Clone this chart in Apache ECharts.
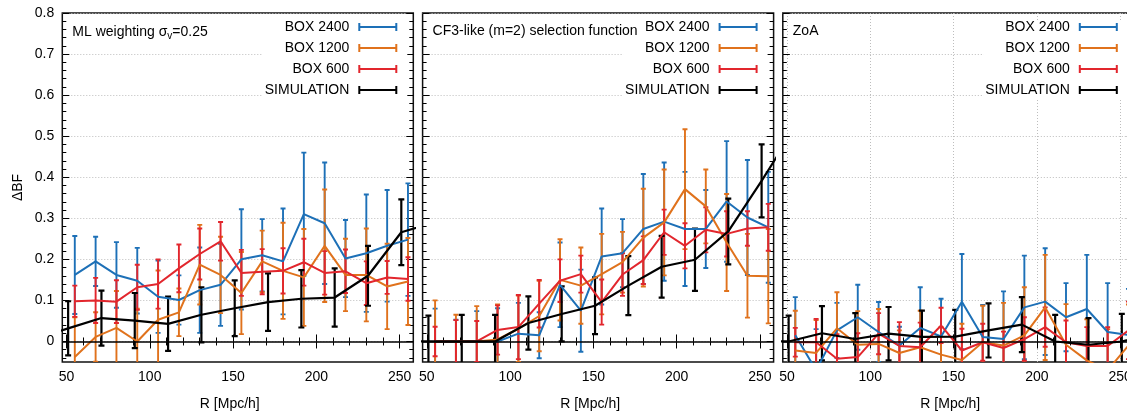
<!DOCTYPE html>
<html><head><meta charset="utf-8">
<script src="https://cdn.jsdelivr.net/npm/echarts@6/dist/echarts.min.js"></script>
<style>html,body{margin:0;padding:0;background:#fff}#c{width:1127px;height:412px}</style>
</head><body><div id="c"></div>
<script>
// ---------------- data ----------------
const boxR = [55,67.5,80,92.5,105,117.5,130,142.5,155,167.5,180,192.5,205,217.5,230,242.5,255];
const simR = [31,51,71,91,111,131,151,171,191,211,231,251,271];

const xMajor = [50,100,150,200,250];
const xMinor = [60,70,80,90,110,120,130,140,160,170,180,190,210,220,230,240];
const yMajor = [0,0.1,0.2,0.3,0.4,0.5,0.6,0.7,0.8];
const yMinor = [-0.04,-0.02,0.02,0.04,0.06,0.08,0.12,0.14,0.16,0.18,0.22,0.24,0.26,0.28,0.32,0.34,0.36,0.38,0.42,0.44,0.46,0.48,0.52,0.54,0.56,0.58,0.62,0.64,0.66,0.68,0.72,0.74,0.76,0.78];

const seriesNames = ['BOX 2400','BOX 1200','BOX 600','SIMULATION'];
const panelTitles = ['ML weighting σ{v|v}=0.25','CF3-like (m=2) selection function','ZoA'];

// Panel 1: ML weighting
const mlBox2400    = [0.162,0.195,0.162,0.148,0.109,0.101,0.125,0.138,0.200,0.210,0.195,0.310,0.288,0.202,0.215,0.233,0.248];
const mlBox2400Err = [0.095,0.060,0.080,0.080,0.088,0.060,0.104,0.100,0.122,0.088,0.129,0.150,0.148,0.094,0.143,0.136,0.137];
const mlBox1200    = [-0.038,0.011,0.033,0.000,0.053,0.071,0.187,0.162,0.118,0.195,0.172,0.156,0.233,0.162,0.162,0.134,0.146];
const mlBox1200Err = [0.097,0.060,0.090,0.080,0.120,0.058,0.097,0.093,0.100,0.075,0.117,0.118,0.137,0.088,0.113,0.104,0.106];
const mlBox600     = [0.098,0.100,0.097,0.132,0.140,0.178,0.213,0.244,0.167,0.170,0.172,0.193,0.167,0.171,0.142,0.156,0.152];
const mlBox600Err  = [0.038,0.055,0.052,0.055,0.060,0.058,0.062,0.047,0.056,0.055,0.055,0.057,0.053,0.053,0.053,0.040,0.053];
const mlSim        = [0.005,0.032,0.057,0.051,0.043,0.065,0.081,0.096,0.104,0.107,0.160,0.266,0.290];
const mlSimErr     = [0.066,0.066,0.067,0.067,0.066,0.067,0.068,0.070,0.070,0.071,0.073,0.080,0.080];

// Panel 2: CF3-like selection function
const cfBox2400    = [0.000,0.000,0.000,0.000,0.019,0.015,0.138,0.075,0.207,0.215,0.274,0.292,0.274,0.274,0.341,0.302,0.278];
const cfBox2400Err = [0.080,0.053,0.074,0.081,0.075,0.056,0.103,0.100,0.117,0.083,0.134,0.144,0.139,0.095,0.147,0.140,0.135];
const cfBox1200    = [0.000,0.000,0.000,0.005,0.031,0.062,0.150,0.136,0.164,0.193,0.253,0.290,0.371,0.329,0.241,0.160,0.159];
const cfBox1200Err = [0.100,0.065,0.086,0.085,0.081,0.086,0.099,0.093,0.098,0.074,0.119,0.129,0.146,0.090,0.118,0.102,0.115];
const cfBox600     = [0.000,0.000,0.000,0.028,0.035,0.092,0.148,0.164,0.096,0.163,0.198,0.266,0.233,0.272,0.262,0.275,0.278];
const cfBox600Err  = [0.036,0.052,0.050,0.060,0.078,0.058,0.052,0.045,0.055,0.052,0.058,0.055,0.055,0.055,0.055,0.042,0.057];
const cfSim        = [0.000,0.000,0.000,0.000,0.045,0.067,0.087,0.136,0.182,0.199,0.268,0.391,0.520];
const cfSimErr     = [0.063,0.063,0.065,0.065,0.065,0.067,0.069,0.072,0.075,0.076,0.080,0.089,0.090];

// Panel 3: ZoA
const zoaBox2400    = [0.015,-0.070,0.027,0.059,0.023,-0.010,0.033,0.012,0.097,0.011,0.006,0.083,0.097,0.059,0.079,0.023,0.016];
const zoaBox2400Err = [0.093,0.100,0.067,0.079,0.073,0.046,0.099,0.092,0.116,0.078,0.116,0.126,0.130,0.083,0.132,0.119,0.112];
const zoaBox1200    = [-0.022,-0.028,0.032,-0.008,-0.006,-0.028,-0.014,-0.032,-0.045,-0.002,-0.010,0.015,0.083,-0.008,-0.046,-0.070,-0.010];
const zoaBox1200Err = [0.097,0.080,0.088,0.082,0.085,0.055,0.089,0.067,0.088,0.089,0.104,0.117,0.128,0.099,0.100,0.100,0.100];
const zoaBox600     = [-0.002,-0.002,-0.042,-0.038,0.019,-0.011,-0.014,0.039,-0.022,-0.002,-0.016,0.006,0.035,-0.002,-0.011,-0.011,0.027];
const zoaBox600Err  = [0.035,0.057,0.060,0.058,0.050,0.058,0.060,0.043,0.053,0.045,0.040,0.053,0.048,0.053,0.046,0.046,0.070];
const zoaSim        = [0.000,0.000,0.020,0.006,0.019,0.011,0.012,0.027,0.041,0.000,-0.008,0.000,0.020];
const zoaSimErr     = [0.063,0.063,0.066,0.063,0.065,0.064,0.065,0.066,0.067,0.065,0.065,0.067,0.067];

// ---------------- styling / build ----------------
const FONT = '"Liberation Sans", Arial, Helvetica, sans-serif';
const COLORS = ['#1d70b7', '#e0721c', '#e2262d', '#000000'];
const panelLeft = [62.3, 422.6, 782.8];
const PW = 351, TOP = 13, PH = 349;
const XMIN = 47.5, XMAX = 258.2, YMIN = -0.05, YMAX = 0.8;

const panels = [
  [[mlBox2400, mlBox2400Err], [mlBox1200, mlBox1200Err], [mlBox600, mlBox600Err], [mlSim, mlSimErr]],
  [[cfBox2400, cfBox2400Err], [cfBox1200, cfBox1200Err], [cfBox600, cfBox600Err], [cfSim, cfSimErr]],
  [[zoaBox2400, zoaBox2400Err], [zoaBox1200, zoaBox1200Err], [zoaBox600, zoaBox600Err], [zoaSim, zoaSimErr]]
];

const grids = [], xAxes = [], yAxes = [], series = [], legends = [], titles = [];
const tickLine = {color: '#000', width: 1};
const gridLine = {color: '#bdbdbd', width: 1, type: [1, 2]};

function errRenderer(color, cap, lw) {
  return function (params, api) {
    const x = api.value(0), y = api.value(1), e = api.value(2);
    const t = api.coord([x, y + e]);
    const b = api.coord([x, y - e]);
    const cs = params.coordSys;
    const style = {stroke: color, lineWidth: lw, fill: null};
    return {
      type: 'group',
      clipPath: {type: 'rect', shape: {x: cs.x, y: cs.y, width: cs.width, height: cs.height}},
      children: [
        {type: 'line', shape: {x1: t[0], y1: t[1], x2: b[0], y2: b[1]}, style: style},
        {type: 'line', shape: {x1: t[0] - cap, y1: t[1], x2: t[0] + cap, y2: t[1]}, style: style},
        {type: 'line', shape: {x1: b[0] - cap, y1: b[1], x2: b[0] + cap, y2: b[1]}, style: style}
      ]
    };
  };
}

for (let p = 0; p < 3; p++) {
  grids.push({left: panelLeft[p], top: TOP, width: PW, height: PH, show: true,
              outerBoundsMode: 'none', containLabel: false,
              borderColor: '#111', borderWidth: 1.5, backgroundColor: 'transparent'});
  const base = 4 * p;
  // x axes: bottom major, bottom minor, top major, top minor
  xAxes.push({type: 'value', gridIndex: p, min: XMIN, max: XMAX, splitNumber: 4, position: 'bottom',
    axisLine: {show: false},
    axisTick: {show: true, inside: true, length: 7, lineStyle: tickLine, customValues: xMajor},
    axisLabel: {show: true, customValues: xMajor, fontSize: 14, color: '#000', fontFamily: FONT, margin: 8},
    splitLine: {show: p === 2, lineStyle: gridLine},
    name: 'R [Mpc/h]', nameLocation: 'middle', nameGap: 35,
    nameTextStyle: {fontSize: 14, color: '#000', fontFamily: FONT, padding: [0, 16, 0, 0]}
  });
  xAxes.push({type: 'value', gridIndex: p, min: XMIN, max: XMAX, position: 'bottom',
    axisLine: {show: false}, axisLabel: {show: false}, splitLine: {show: false},
    axisTick: {show: true, inside: true, length: 4, lineStyle: tickLine, customValues: xMinor}});
  xAxes.push({type: 'value', gridIndex: p, min: XMIN, max: XMAX, position: 'top',
    axisLine: {show: false}, axisLabel: {show: false}, splitLine: {show: false},
    axisTick: {show: true, inside: true, length: 7, lineStyle: tickLine, customValues: xMajor}});
  xAxes.push({type: 'value', gridIndex: p, min: XMIN, max: XMAX, position: 'top',
    axisLine: {show: false}, axisLabel: {show: false}, splitLine: {show: false},
    axisTick: {show: true, inside: true, length: 4, lineStyle: tickLine, customValues: xMinor}});
  // y axes: left major, left minor, right major, right minor
  yAxes.push({type: 'value', gridIndex: p, min: YMIN, max: YMAX, splitNumber: 8, position: 'left',
    axisLine: {show: false},
    axisTick: {show: true, inside: true, length: 7, lineStyle: tickLine, customValues: yMajor},
    axisLabel: {show: p === 0, customValues: yMajor, fontSize: 14, color: '#000', fontFamily: FONT, margin: 8},
    splitLine: {show: true, lineStyle: gridLine},
    name: p === 0 ? 'ΔBF' : '', nameLocation: 'middle', nameGap: 37,
    nameTextStyle: {fontSize: 14, color: '#000', fontFamily: FONT}
  });
  yAxes.push({type: 'value', gridIndex: p, min: YMIN, max: YMAX, position: 'left',
    axisLine: {show: false}, axisLabel: {show: false}, splitLine: {show: false},
    axisTick: {show: true, inside: true, length: 4, lineStyle: tickLine, customValues: yMinor}});
  yAxes.push({type: 'value', gridIndex: p, min: YMIN, max: YMAX, position: 'right',
    axisLine: {show: false}, axisLabel: {show: false}, splitLine: {show: false},
    axisTick: {show: true, inside: true, length: 7, lineStyle: tickLine, customValues: yMajor}});
  yAxes.push({type: 'value', gridIndex: p, min: YMIN, max: YMAX, position: 'right',
    axisLine: {show: false}, axisLabel: {show: false}, splitLine: {show: false},
    axisTick: {show: true, inside: true, length: 4, lineStyle: tickLine, customValues: yMinor}});

  for (let s = 0; s < 4; s++) {
    const vals = panels[p][s][0], errs = panels[p][s][1];
    const R = s === 3 ? simR : boxR;
    const isSim = s === 3;
    const color = COLORS[s];
    series.push({
      type: 'custom', name: seriesNames[s], xAxisIndex: base, yAxisIndex: base,
      clip: true, silent: true,
      itemStyle: {color: color},
      encode: {x: 0, y: 1},
      renderItem: errRenderer(color, isSim ? 3 : 2.5, isSim ? 2.2 : 1.9),
      data: R.map((r, i) => [r, vals[i], errs[i]])
    });
    const line = {
      type: 'line', name: seriesNames[s], xAxisIndex: base, yAxisIndex: base,
      clip: true, silent: true, symbol: 'none',
      itemStyle: {color: color},
      lineStyle: {color: color, width: isSim ? 2.2 : 2},
      data: R.map((r, i) => [r, vals[i]])
    };
    if (isSim) {
      line.markLine = {silent: true, symbol: ['none', 'none'], label: {show: false},
        lineStyle: {color: '#000', width: 1.5, type: 'solid'}, data: [{yAxis: 0}]};
    }
    series.push(line);
  }

  const panelRight = panelLeft[p] + PW;
  legends.push({
    orient: 'vertical', align: 'right',
    right: 1127 - (panelRight - 6), top: TOP + 7,
    padding: [0, 10, 3, 2], itemGap: 7, itemWidth: 39, itemHeight: 8,
    backgroundColor: '#fff', selectedMode: false,
    icon: 'path://M0,0h2v8h-2z M2,3h35v2h-35z M37,0h2v8h-2z',
    textStyle: {fontSize: 14, color: '#000', fontFamily: FONT, lineHeight: 14, padding: [0, 4, 0, 0]},
    data: seriesNames
  });
  titles.push({
    text: panelTitles[p], left: panelLeft[p] + 10, top: 24, padding: 0,
    textStyle: {fontSize: 14, fontWeight: 'normal', color: '#000', fontFamily: FONT,
      rich: {v: {fontSize: 10, color: '#000', fontFamily: FONT, padding: [7, 0, 0, 0]}}}
  });
}

const chart = echarts.init(document.getElementById('c'), null, {renderer: 'canvas'});
chart.setOption({
  animation: false,
  backgroundColor: '#fff',
  title: titles,
  legend: legends,
  grid: grids,
  xAxis: xAxes,
  yAxis: yAxes,
  series: series
});
</script></body></html>
